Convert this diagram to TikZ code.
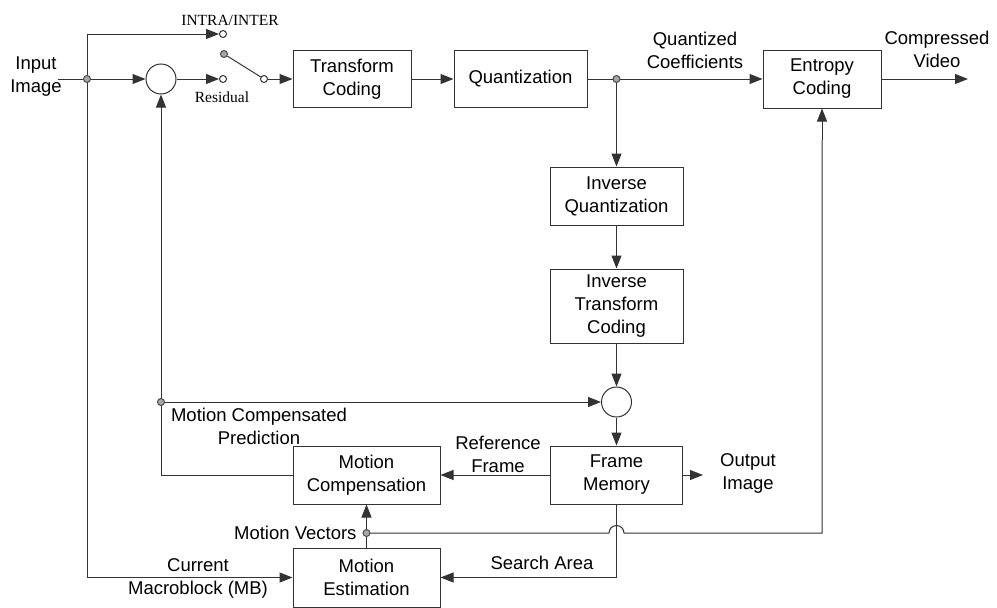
\documentclass[tikz,border=0pt]{standalone}
\usepackage{fontspec}
\setmainfont{Liberation Sans}
\newfontfamily\timesfont{Liberation Serif}
\usepackage{tikz}
\usetikzlibrary{arrows.meta,positioning}

\begin{document}
\begin{tikzpicture}[
            x=1pt,   % 1 px of the layout = 1pt
            y=-1pt,  % y downwards
            line width=1pt,
            draw=black!80,
            font=\fontsize{18.5}{23}\selectfont,
            >={Triangle[length=13pt,width=10pt]},
            box/.style={draw=black!80, rectangle, align=center, inner sep=0pt},
            adder/.style={draw=black!80, circle, minimum size=30pt, inner sep=0pt},
            contact/.style={draw=black!80, fill=white, circle, minimum size=7pt, inner sep=0pt},
            junction/.style={draw=black!70, fill=black!35, circle, minimum size=7pt, inner sep=0pt},
            lbl/.style={align=center, inner sep=0pt},
            swlbl/.style={inner sep=0pt, font=\timesfont\fontsize{15.5}{18}\selectfont}
        ]
            \useasboundingbox (0,0) rectangle (997,608);

            % Blöcke
            \node[box, minimum width=118pt, minimum height=57pt] (tc) at (352,79) {Transform\\Coding};
            \node[box, minimum width=133pt, minimum height=57pt] (quant) at (520.5,79) {Quantization};
            \node[box, minimum width=118pt, minimum height=58pt] (entropy) at (822,79) {Entropy\\Coding};
            \node[box, minimum width=133pt, minimum height=58pt] (iq) at (616.5,196) {Inverse\\Quantization};
            \node[box, minimum width=133pt, minimum height=74pt] (itc) at (616.5,306) {Inverse\\Transform\\Coding};
            \node[box, minimum width=132pt, minimum height=58pt] (fm) at (616.5,475) {Frame\\Memory};
            \node[box, minimum width=147pt, minimum height=58pt] (mc) at (366.5,475) {Motion\\Compensation};
            \node[box, minimum width=147pt, minimum height=59pt] (me) at (366.5,577.5) {Motion\\Estimation};

            % Addierer
            \node[adder] (add1) at (161,79) {};
            \node[adder] (add2) at (616.5,402) {};

            % Schalter
            \node[contact] (c1) at (223,34) {};
            \node[contact] (c2) at (223,79) {};
            \node[junction] (sw) at (224,54) {};
            \node[contact] (c3) at (264,79) {};

            % Hilfspunkte
            \coordinate (in) at (58,79);
            \coordinate (out) at (968,79);
            \coordinate (outimg) at (703,475);
            \coordinate (hopl) at (609,533);
            \coordinate (hopr) at (624,533);

            % Vorwärtszweig
            \draw (in) -- (87,79) coordinate (j1pos);
            \draw[->] (j1pos) |- (c1);
            \draw[->] (j1pos) -- (add1);
            \draw[->] (add1) -- (c2);
            \draw (sw) -- (c3);
            \draw[->] (c3) -- (tc);
            \draw[->] (tc) -- (quant);
            \draw[->] (quant) -- (entropy);
            \draw[->] (entropy) -- (out);

            % Rückkopplung
            \draw[->] (616.5,79) -- (iq);
            \draw[->] (iq) -- (itc);
            \draw[->] (itc) -- (add2);
            \draw[->] (add2) -- (fm);
            \draw[->] (fm) -- (outimg);
            \draw[->] (fm) -- (mc);
            \draw[->] (mc.west) -| (add1.south);
            \draw[->] (161,402) -- (add2);
            \draw[->] (me) -- (mc);
            \draw[->] (fm.south) |- (me.east);
            \draw[->] (j1pos) |- (me.west);

            % Bewegungsvektoren (mit Sprung)
            \draw (366.5,533) -- (hopl) arc[start angle=180, end angle=0, radius=7.5pt] -- (hopr) -| (822,140);
            \draw[->] (822,140) -- (entropy.south);

            % Verzweigungspunkte
            \node[junction] (j1) at (87,79) {};
            \node[junction] (j2) at (616.5,79) {};
            \node[junction] (j3) at (161,402) {};
            \node[junction] (j4) at (366.5,533) {};

            % Beschriftungen
            \node[lbl] (inlbl) at (36,77) {Input\\Image};
            \node[swlbl] (intra) at (230,20) {INTRA/INTER};
            \node[swlbl] (resid) at (222,97) {Residual};
            \node[lbl] (qclbl) at (695,50) {Quantized\\Coefficients};
            \node[lbl] (cvlbl) at (937,49) {Compressed\\Video};
            \node[lbl] (mcplbl) at (259,426) {Motion Compensated\\Prediction};
            \node[lbl] (reflbl) at (498,454) {Reference\\Frame};
            \node[lbl] (oilbl) at (748,473) {Output\\Image};
            \node[lbl, anchor=east] (mvlbl) at (357,533) {Motion Vectors};
            \node[lbl] (cmblbl) at (198,578) {Current\\Macroblock (MB)};
            \node[lbl] (salbl) at (542,563) {Search Area};
        \end{tikzpicture}
\end{document}
